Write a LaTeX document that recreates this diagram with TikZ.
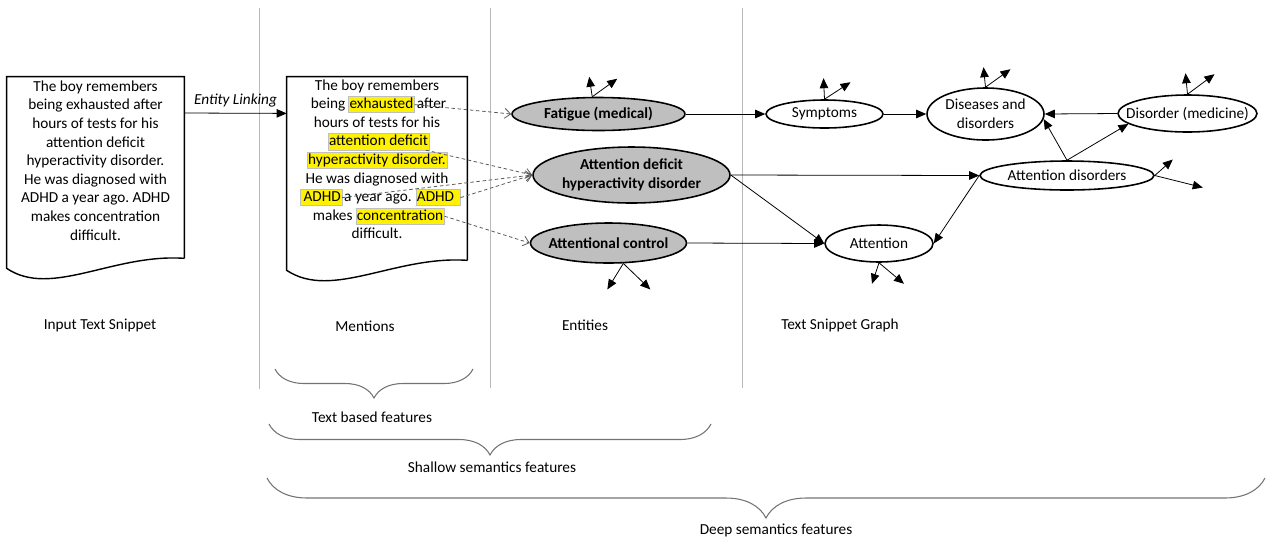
\documentclass[tikz,border=0pt]{standalone}
\usepackage{fontspec}
\setmainfont{Carlito}
\usetikzlibrary{positioning,arrows.meta,calc,shapes.geometric,decorations.pathreplacing}
\tikzset{
  arr/.style={-{Triangle[length=2mm,width=1.7mm]},line width=0.45pt},
  lnk/.style={-{Straight Barb[length=1.2mm,width=2mm]},line width=0.45pt,black!65,
    dash pattern=on 2pt off 1.5pt},            % mention -> entity
  sep/.style={line width=0.5pt,black!28},
  docline/.style={line width=0.8pt},
  docbox/.style={rectangle,inner sep=0pt},
  mtxt/.style={inner sep=0pt,text height=6.5pt,text depth=1.9pt},
  hl/.style={mtxt,fill=yellow,draw=black!25,line width=0.3pt,inner xsep=0.6pt,inner ysep=0.4pt},
  lbl/.style={align=center,inner sep=0pt},
  ent/.style={ellipse,draw,line width=0.9pt,fill=black!25,inner sep=0pt,
    label={[lbl,font=\bfseries]center:#1}},    % linked entity
  gnode/.style={ellipse,draw,line width=0.9pt,fill=white,inner sep=0pt,
    label={[lbl]center:#1}},                   % graph node
  brc/.style={decorate,decoration={brace,mirror,amplitude=#1},line width=0.6pt,black!55},
}
% document shape with wavy bottom around a named box
\newcommand{\docshape}[1]{%
  \draw[docline] (#1.south east) -- (#1.north east) -- (#1.north west) -- ($(#1.south west)+(0,10)$)
    .. controls ($(#1.south west)!0.25!(#1.south east)+(0,40)$) and ($(#1.south west)!0.6!(#1.south east)+(0,-5)$)
    .. (#1.south east);}

\begin{document}
\frenchspacing
\fontsize{8.7pt}{10.6pt}\selectfont
\begin{tikzpicture}[x=0.02cm,y=-0.02cm]
  \useasboundingbox (0,0) rectangle (1268,539);
  % column separators
  \draw[sep] (259,8) -- (259,389);
  \draw[sep] (490,8) -- (490,388);
  \draw[sep] (742,8) -- (742,388);

  % input snippet
  \node[docbox,minimum width=3.54cm,minimum height=3.62cm] (snip) at (95.5,167.5) {};
  \docshape{snip}
  \node[lbl] (sniptxt) at (95.5,160.4) {The boy remembers\\being exhausted after\\hours of tests for his\\
    attention deficit\\hyperactivity disorder.\\He was diagnosed with\\ADHD a year ago. ADHD\\
    makes concentration\\difficult.};

  % mentions
  \node[docbox,minimum width=3.6cm,minimum height=3.66cm] (ment) at (377,168.5) {};
  \docshape{ment}
  \node[mtxt] (ml1) at (377,86) {The boy remembers};
  \node[hl] (mexh) at (381.5,104.6) {exhausted};
  \node[mtxt,left=1.5pt of mexh] (ml2a) {being};
  \node[mtxt,right=1pt of mexh] (ml2b) {after};
  \node[mtxt] (ml3) at (377,123.2) {hours of tests for his};
  \node[hl] (matt) at (378.5,141.8) {attention deficit};
  \node[hl] (mhyp) at (377,160.4) {hyperactivity disorder.};
  \node[mtxt] (ml6) at (377,179) {He was diagnosed with};
  \node[mtxt] (ml7) at (378,197.6) {a year ago.};
  \node[hl,left=1pt of ml7] (mad1) {\,ADHD};
  \node[hl,right=2pt of ml7] (mad2) {ADHD\,\,};
  \node[hl] (mcon) at (400,216.2) {concentration};
  \node[mtxt,left=1.5pt of mcon] (ml8) {makes};
  \node[mtxt] (ml9) at (377,234.8) {difficult.};

  \draw[arr] ($(snip.north east)!0.2!(snip.south east)$) -- ($(ment.north west)!0.2!(ment.south west)$)
    node[midway,above,font=\itshape,inner sep=3pt] {Entity Linking};

  % entities
  \node[ent={Fatigue (medical)},minimum width=3.46cm,minimum height=0.66cm] (fat) at (598.5,114) {};
  \node[ent={Attention deficit\\hyperactivity disorder},minimum width=3.94cm,minimum height=1.12cm] (adhd) at (631.5,175) {};
  \node[ent={Attentional control},minimum width=3.12cm,minimum height=0.8cm] (acl) at (608.5,243) {};

  % text snippet graph
  \node[gnode={Symptoms},minimum width=2.34cm,minimum height=0.56cm] (sym) at (824.5,114) {};
  \node[gnode={Diseases and\\disorders},minimum width=2.34cm,minimum height=1.04cm] (dis) at (985.5,114) {};
  \node[gnode={Disorder (medicine)},minimum width=2.78cm,minimum height=0.74cm] (dme) at (1187.5,113.5) {};
  \node[gnode={Attention disorders},minimum width=3.48cm,minimum height=0.58cm] (adi) at (1067,175.5) {};
  \node[gnode={Attention},minimum width=2.16cm,minimum height=0.74cm] (att) at (879,243.5) {};

  % mention links
  \draw[lnk] (mexh.east) -- (fat.west);
  \draw[lnk] (matt.-10) -- (adhd.west);
  \draw[lnk] (mad1.east) -- (adhd.west);
  \draw[lnk] (mad2.east) -- (adhd.west);
  \draw[lnk] (mcon.east) -- (acl.west);

  % relations
  \draw[arr] (fat.east) -- (sym.west);
  \draw[arr] (adhd.east) -- (adi.west);
  \draw[arr] (adhd.east) -- (att.west);
  \draw[arr] (acl.east) -- (att.west);
  \draw[arr] (sym.east) -- (dis.west);
  \draw[arr] (dme.west) -- (dis.east);
  \draw[arr] (adi.north) -- (dis.-5);
  \draw[arr] (adi.north) -- (dme.190);
  \draw[arr] (adi.west) -- (att.east);

  % dangling edges
  \foreach \src/\ax/\ay/\bx/\by [count=\i] in {fat.110/-3/-20/25/-18, acl.-54/-16/26/27/26,
      sym.north/-1/-21/26/-17, dis.north/-2/-20/25/-18, dme.north/-2/-21/27/-20,
      adi.east/18/-16/48/12, att.south/-7/21/25/21}{
    \coordinate (stA\i) at ($(\src)+(\ax,\ay)$);
    \coordinate (stB\i) at ($(\src)+(\bx,\by)$);
    \draw[arr] (\src) -- (stA\i);
    \draw[arr] (\src) -- (stB\i);
  }

  % column captions
  \node (capin) at (100,325) {Input Text Snippet};
  \node (capme) at (365,326) {Mentions};
  \node (capen) at (585,325) {Entities};
  \node (capgr) at (840,325) {Text Snippet Graph};

  % feature groups
  \draw[brc=0.58cm] (275,369) -- (473,369);
  \node (ftext) at (372,417) {Text based features};
  \draw[brc=0.62cm] (269,424) -- (711,424);
  \node (fshal) at (492,467) {Shallow semantics features};
  \draw[brc=0.8cm] (267,478) -- (1265,478);
  \node (fdeep) at (776,530) {Deep semantics features};
\end{tikzpicture}
\end{document}
